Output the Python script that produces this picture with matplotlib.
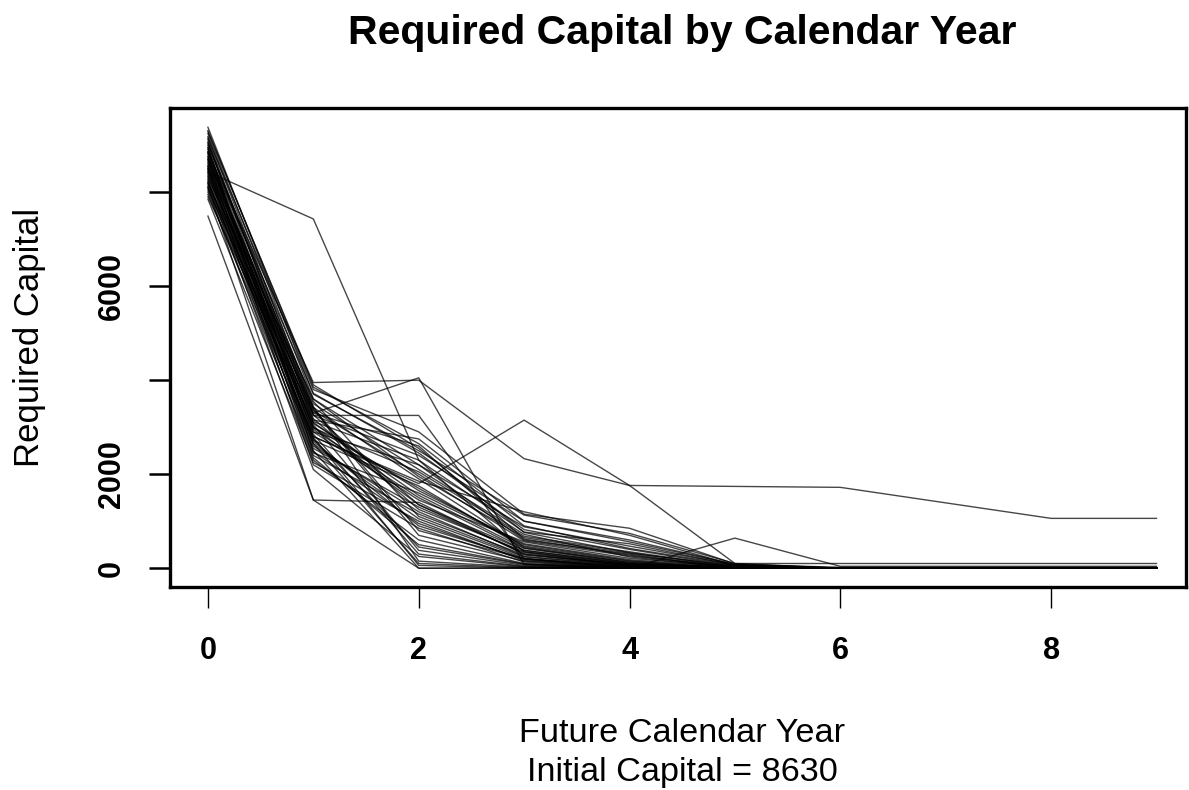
import numpy as np
import matplotlib
matplotlib.use('Agg')
import matplotlib.pyplot as plt

plt.rcParams['font.family'] = ['Liberation Sans', 'DejaVu Sans']

years = [0, 1, 2, 3, 4, 5, 6, 7, 8, 9]

# required capital per simulated path, one list per future calendar year
cap_y0 = [8430, 8850, 9050, 8700, 8200, 7490, 8100, 8500, 9380, 9310,
          9240, 9180, 9120, 9070, 9020, 8990, 8940, 8910, 8870, 8830,
          8800, 8760, 8720, 8690, 8660, 8630, 8600, 8570, 8540, 8510,
          8480, 8450, 8420, 8390, 8360, 8330, 8300, 8270, 8240, 8210,
          8180, 8150, 8120, 8080, 8040, 8000, 7950, 7900, 7850, 9150,
          8950, 8750, 8550, 9280, 8850]
cap_y1 = [7430, 3950, 3300, 3250, 2800, 1450, 1450, 2700, 3700, 3850,
          3600, 3420, 3150, 2950, 3500, 3380, 2600, 3080, 2850, 3720,
          2480, 3260, 2980, 2350, 3550, 3120, 2720, 3440, 2900, 2200,
          3300, 2650, 3050, 2450, 3180, 2780, 3600, 2300, 2900, 2550,
          3400, 2100, 3000, 2750, 3250, 2400, 2650, 3100, 2250, 3800,
          2500, 3350, 3000, 3900, 2800]
cap_y2 = [2300, 4000, 4050, 3250, 1800, 0, 1400, 900, 2500, 2650,
          2200, 1900, 2750, 1500, 2100, 700, 1200, 1650, 300, 2450,
          950, 1350, 2050, 500, 1100, 2300, 1750, 150, 1450, 850,
          2600, 1050, 380, 1600, 1250, 60, 1950, 600, 2200, 1300,
          800, 250, 1700, 450, 2400, 1150, 100, 1550, 1000, 2900,
          0, 2000, 1350, 2550, 1850]
cap_y3 = [350, 2330, 80, 200, 3150, 0, 300, 200, 1130, 900,
          600, 450, 1000, 380, 720, 150, 250, 520, 40, 820,
          180, 300, 680, 90, 240, 770, 430, 20, 560, 130,
          620, 210, 60, 500, 350, 0, 650, 100, 880, 330,
          200, 30, 470, 80, 1000, 280, 10, 420, 160, 1150,
          0, 580, 380, 760, 1200]
cap_y4 = [60, 1760, 0, 30, 1760, 0, 50, 0, 740, 420,
          300, 120, 560, 90, 240, 0, 60, 180, 0, 400,
          20, 70, 350, 0, 50, 520, 130, 0, 210, 0,
          280, 40, 0, 160, 90, 0, 320, 10, 470, 60,
          30, 0, 150, 0, 600, 80, 0, 110, 20, 850,
          0, 260, 100, 330, 700]
cap_y5 = [0, 1740, 0, 0, 100, 0, 0, 640, 100, 60,
          0, 0, 80, 0, 0, 0, 0, 20, 0, 40,
          0, 0, 30, 0, 0, 60, 0, 0, 30, 0,
          0, 0, 0, 0, 0, 0, 50, 0, 70, 0,
          0, 0, 0, 0, 80, 0, 0, 0, 0, 90,
          0, 30, 0, 20, 60]
cap_y6 = [0, 1720, 0, 0, 100, 0, 0, 40, 0, 0,
          0, 0, 0, 0, 0, 0, 0, 0, 0, 0,
          0, 0, 0, 0, 0, 0, 0, 0, 0, 0,
          0, 0, 0, 0, 0, 0, 0, 0, 0, 0,
          0, 0, 0, 0, 20, 0, 0, 0, 0, 0,
          0, 0, 0, 0, 0]
cap_y7 = [0, 1390, 0, 0, 100, 0, 0, 40, 0, 0,
          0, 0, 0, 0, 0, 0, 0, 0, 0, 0,
          0, 0, 0, 0, 0, 0, 0, 0, 0, 0,
          0, 0, 0, 0, 0, 0, 0, 0, 0, 0,
          0, 0, 0, 0, 20, 0, 0, 0, 0, 0,
          0, 0, 0, 0, 0]
cap_y8 = [0, 1060, 0, 0, 100, 0, 0, 40, 0, 0,
          0, 0, 0, 0, 0, 0, 0, 0, 0, 0,
          0, 0, 0, 0, 0, 0, 0, 0, 0, 0,
          0, 0, 0, 0, 0, 0, 0, 0, 0, 0,
          0, 0, 0, 0, 20, 0, 0, 0, 0, 0,
          0, 0, 0, 0, 0]
cap_y9 = [0, 1060, 0, 0, 100, 0, 0, 40, 0, 0,
          0, 0, 0, 0, 0, 0, 0, 0, 0, 0,
          0, 0, 0, 0, 0, 0, 0, 0, 0, 0,
          0, 0, 0, 0, 0, 0, 0, 0, 0, 0,
          0, 0, 0, 0, 20, 0, 0, 0, 0, 0,
          0, 0, 0, 0, 0]

initial_capital = 8630
y_ticks = [0, 2000, 4000, 6000, 8000]
y_ticklabels = ['0', '2000', '', '6000', '']
x_ticks = [0, 2, 4, 6, 8]

paths = np.array([cap_y0, cap_y1, cap_y2, cap_y3, cap_y4,
                  cap_y5, cap_y6, cap_y7, cap_y8, cap_y9])

fig = plt.figure(figsize=(11.89, 7.90), dpi=100)
ax = fig.add_axes([170/1189, 1-587/790, (1186-170)/1189, (587-108)/790])

ax.plot(years, paths, color='black', alpha=0.72, lw=1.0)

ax.set_xlim(-0.36, 9.28)
ax.set_ylim(-400, 9790)
ax.set_xticks(x_ticks)
ax.set_xticklabels([str(t) for t in x_ticks], fontsize=22, fontweight='bold')
ax.set_yticks(y_ticks)
ax.set_yticklabels(y_ticklabels, fontsize=22, fontweight='bold', rotation=90, va='center')
ax.tick_params(axis='x', length=15, width=1.0, pad=20)
ax.tick_params(axis='y', length=15, width=1.8, pad=16)
for s in ax.spines.values():
    s.set_linewidth(2.4)

fig.text(0.574, 0.958, 'Required Capital by Calendar Year', fontsize=29.5,
         fontweight='bold', ha='center', va='center')
fig.text(0.574, 1-733/790, 'Future Calendar Year', fontsize=24.7, ha='center', va='center')
fig.text(0.574, 1-773/790, 'Initial Capital = %d' % initial_capital, fontsize=24.7,
         ha='center', va='center')
fig.text(30/1189, 1-337/790, 'Required Capital', fontsize=25, rotation=90,
         ha='center', va='center')

fig.savefig('out.png', dpi=100)
